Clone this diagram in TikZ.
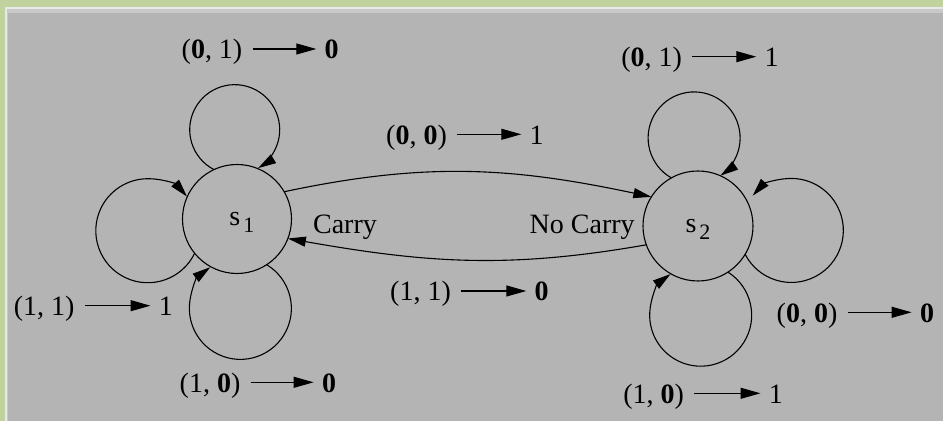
\documentclass[tikz,border=0pt]{standalone}
\usepackage{fontspec}
\setmainfont{Liberation Serif}
\usetikzlibrary{arrows.meta}

\definecolor{framegreen}{RGB}{194,210,158}
\definecolor{framelight}{RGB}{232,232,232}
\definecolor{panelbevel}{RGB}{200,200,200}
\definecolor{panelgray}{RGB}{180,180,180}

\begin{document}
\begin{tikzpicture}[
  x=0.5pt, y=0.5pt,
  lbl/.style={font=\fontsize{14}{16}\selectfont, inner sep=0pt, text height=13pt, text depth=3pt},
  statev/.style={circle, draw=black, line width=0.55pt, inner sep=0pt, outer sep=0pt, font=\fontsize{14}{16}\selectfont, text height=9.5pt, text depth=2.5pt},
  loopedge/.style={draw=black, line width=0.55pt, -{Triangle[length=9pt, width=5pt]}},
  crossedge/.style={draw=black, line width=0.55pt, -{Triangle[length=9pt, width=5pt]}},
  lblarrow/.style={draw=black, line width=0.55pt, shorten <=5pt, shorten >=4pt, -{Triangle[length=10pt, width=5.5pt]}}
]

\fill[framegreen] (0,0) rectangle (943,421);
\fill[framelight] (5,0) rectangle (943,414);
\fill[panelbevel] (7,0) rectangle (943,412);
\fill[panelgray] (8,0) rectangle (943,408);
\useasboundingbox (0,0) rectangle (943,421);

\node[statev, minimum size=54.5pt] (s1) at (237,202) {\hspace*{4.9pt}s\hspace{1.5pt}\raisebox{-3.3pt}{\fontsize{11}{13}\selectfont 1}};
\node[statev, minimum size=55pt] (s2) at (698,195) {s\hspace{1.5pt}\raisebox{-3.3pt}{\fontsize{11}{13}\selectfont 2}};

\draw[loopedge] (s1.115.82) arc[start angle=242.55, end angle=-58.69, radius=22.5pt];
\draw[loopedge] (s1.219.36) arc[start angle=334.29, end angle=41.07, radius=26pt];
\draw[loopedge] (s1.303.77) arc[start angle=418.95, end angle=126.19, radius=25.5pt];
\draw[loopedge] (s2.119.14) arc[start angle=240.32, end angle=-55.12, radius=23pt];
\draw[loopedge] (s2.-31.68) arc[start angle=-152.68, end angle=138, radius=26pt];
\draw[loopedge] (s2.303.40) arc[start angle=417.65, end angle=126.21, radius=25.5pt];

\draw[crossedge] (s1.30) to[out=12, in=168] (s2.148);
\draw[crossedge] (s2.200) to[out=190, in=-10] (s1.-21);

\node[lbl] (ni1) at (212,372) {(\textbf{0}, 1)};
\node[lbl] (no1) at (331.7,372) {\textbf{0}};
\node[lbl] (ni2) at (651.7,364.3) {(\textbf{0}, 1)};
\node[lbl] (no2) at (771.7,364.3) {1};
\node[lbl] (ni3) at (416.5,286.7) {(\textbf{0}, \textbf{0})};
\node[lbl] (no3) at (536.7,286.7) {1};
\node[lbl] (ni4) at (420.5,130) {(1, 1)};
\node[lbl] (no4) at (541.7,130) {\textbf{0}};
\node[lbl] (ni5) at (44.2,115.3) {(1, 1)};
\node[lbl] (no5) at (165.9,115.3) {1};
\node[lbl] (ni6) at (210,38.7) {(1, \textbf{0})};
\node[lbl] (no6) at (329,38.7) {\textbf{0}};
\node[lbl] (ni7) at (807,108.7) {(\textbf{0}, \textbf{0})};
\node[lbl] (no7) at (927,108.7) {\textbf{0}};
\node[lbl] (ni8) at (653.7,27.7) {(1, \textbf{0})};
\node[lbl] (no8) at (775.9,27.7) {1};
\draw[lblarrow] (ni1) -- (no1);
\draw[lblarrow] (ni2) -- (no2);
\draw[lblarrow] (ni3) -- (no3);
\draw[lblarrow] (ni4) -- (no4);
\draw[lblarrow] (ni5) -- (no5);
\draw[lblarrow] (ni6) -- (no6);
\draw[lblarrow] (ni7) -- (no7);
\draw[lblarrow] (ni8) -- (no8);

\node[lbl] (carry) at (345,197.7) {Carry};
\node[lbl] (nocarry) at (582.2,197.7) {No Carry};

\end{tikzpicture}
\end{document}
